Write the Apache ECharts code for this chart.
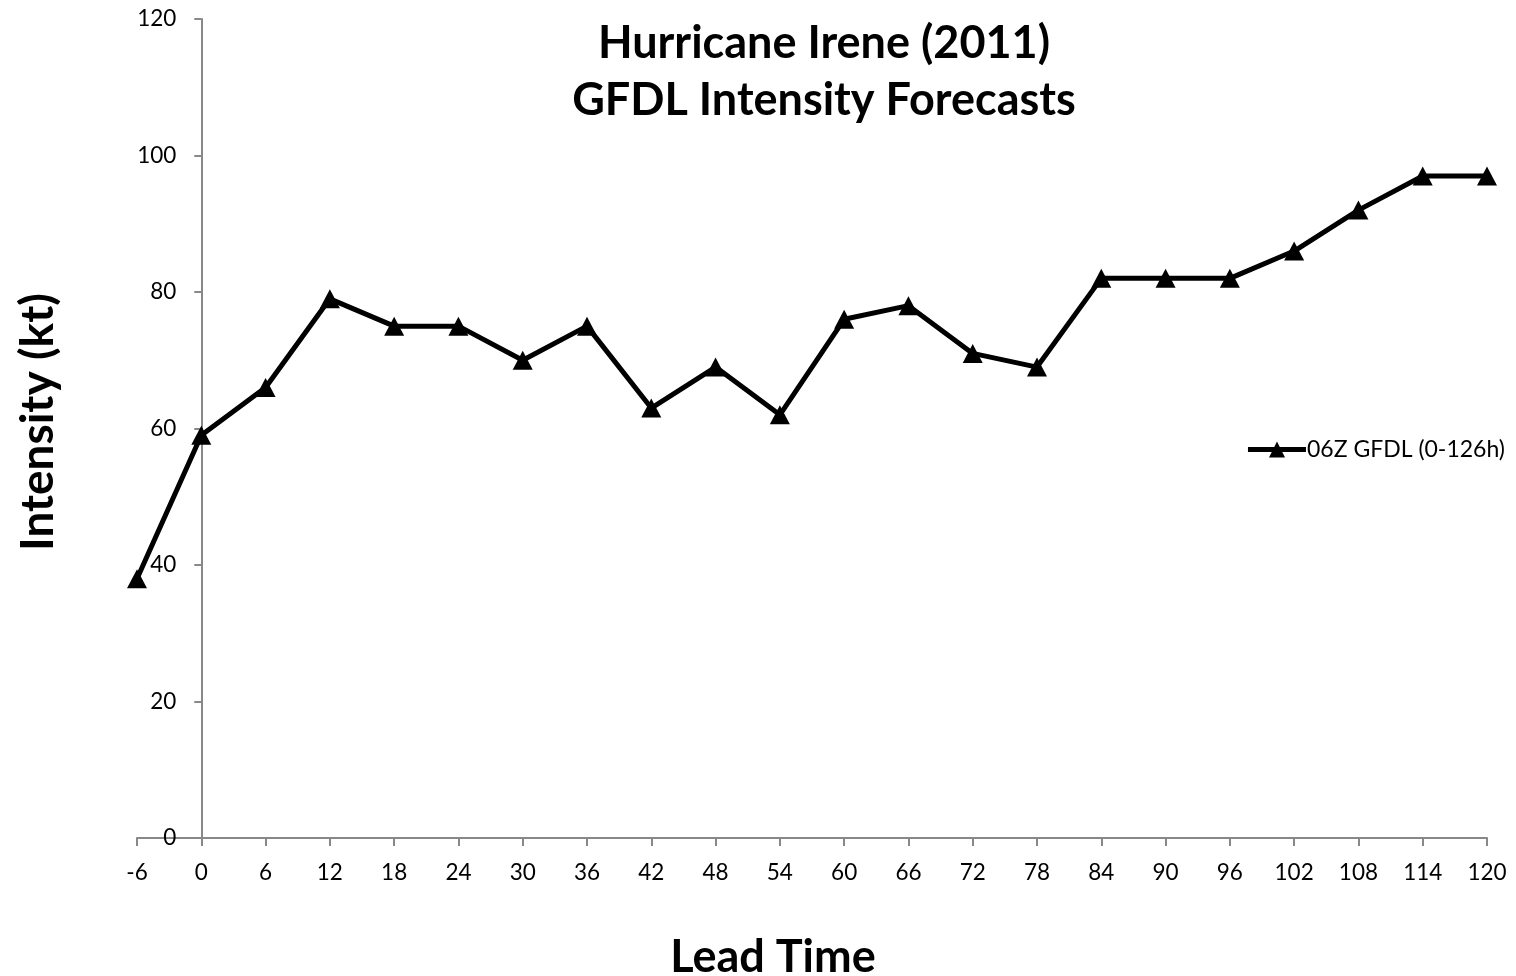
<!DOCTYPE html>
<html><head><meta charset="utf-8">
<script src="https://cdn.jsdelivr.net/npm/echarts@6/dist/echarts.min.js"></script>
<style>html,body{margin:0;padding:0;background:#fff}#c{width:1516px;height:976px}</style>
</head><body><div id="c"></div>
<script>
const leadTimes = [-6,0,6,12,18,24,30,36,42,48,54,60,66,72,78,84,90,96,102,108,114,120];
const intensity = [38,59,66,79,75,75,70,75,63,69,62,76,78,71,69,82,82,82,86,92,97,97];
const seriesName = '06Z GFDL (0-126h)';
const FONT = 'Lato';
const GRID_LEFT = 137, GRID_RIGHT = 29;
const chart = echarts.init(document.getElementById('c'));
// place the y axis at lead time 0 (as in the original)
const plotW = 1516 - GRID_LEFT - GRID_RIGHT;
const yAxisOffset = -plotW * (0 - leadTimes[0]) / (leadTimes[leadTimes.length-1] - leadTimes[0]);
chart.setOption({
  backgroundColor:'#fff',
  animation:false,
  textStyle:{fontFamily:FONT},
  title:{text:'Hurricane Irene (2011)\nGFDL Intensity Forecasts', left:819, top:10, textAlign:'center',
    textStyle:{fontFamily:FONT, fontSize:45, fontWeight:'bold', color:'#000', lineHeight:57}},
  legend:{right:6, top:433, itemWidth:58, itemHeight:20, itemGap:0,
    lineStyle:{width:5, color:'#000'},
    textStyle:{fontFamily:FONT, fontSize:23, color:'#000', padding:[0,0,0,-4]},
    data:[seriesName]},
  grid:{left:GRID_LEFT, right:GRID_RIGHT, top:19, bottom:138, containLabel:false},
  xAxis:{type:'value', min:-6, max:120, interval:6,
    axisLine:{show:true, onZero:false, lineStyle:{color:'#888', width:2}},
    axisTick:{show:true, length:8, lineStyle:{color:'#888', width:2}},
    axisLabel:{fontFamily:FONT, fontSize:22.5, color:'#000', margin:23},
    splitLine:{show:false}},
  yAxis:{type:'value', min:0, max:120, interval:20, offset:yAxisOffset,
    axisLine:{show:true, onZero:false, lineStyle:{color:'#888', width:2}},
    axisTick:{show:true, length:7, lineStyle:{color:'#888', width:2}},
    axisLabel:{fontFamily:FONT, fontSize:22.5, color:'#000', margin:25},
    splitLine:{show:false}},
  graphic:[
    {type:'text', x:38, y:422, rotation:Math.PI/2, style:{text:'Intensity (kt)', font:'bold 46px '+FONT, fill:'#000', textAlign:'center', textVerticalAlign:'middle'}},
    {type:'text', x:773, y:957, style:{text:'Lead Time', font:'bold 45px '+FONT, fill:'#000', textAlign:'center', textVerticalAlign:'middle'}}
  ],
  series:[{name:seriesName, type:'line', data:leadTimes.map((t,i)=>[t,intensity[i]]),
    symbol:'triangle', symbolSize:[20,19], showAllSymbol:true,
    lineStyle:{color:'#000', width:5}, itemStyle:{color:'#000'}}]
});
</script></body></html>
